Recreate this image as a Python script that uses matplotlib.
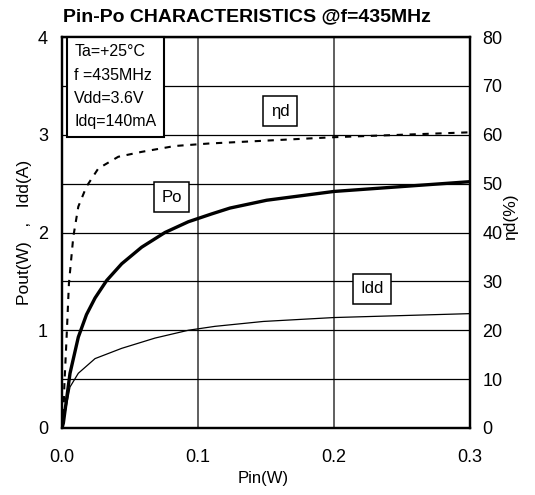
import matplotlib.pyplot as plt

plt.rcParams['font.family'] = ['Liberation Sans', 'DejaVu Sans']

pin_po = [0.0, 0.001, 0.0059, 0.012, 0.018, 0.0243, 0.0329, 0.0439, 0.0586,
          0.0757, 0.0929, 0.11, 0.1235, 0.1505, 0.2, 0.25, 0.3]
po = [0.0, 0.05, 0.56, 0.93, 1.16, 1.33, 1.51, 1.68, 1.85,
      2.0, 2.11, 2.19, 2.25, 2.33, 2.42, 2.47, 2.52]

pin_idd = [0.0, 0.001, 0.0059, 0.012, 0.0243, 0.0439, 0.0684, 0.0929, 0.1125,
           0.148, 0.2, 0.25, 0.3]
idd = [0.0, 0.065, 0.42, 0.56, 0.71, 0.815, 0.92, 1.0, 1.04,
       1.09, 1.13, 1.15, 1.17]

pin_eff = [0.0, 0.001, 0.0017, 0.0034, 0.0051, 0.0083, 0.012, 0.018, 0.0267,
           0.0414, 0.0586, 0.083, 0.1076, 0.136, 0.2, 0.25, 0.3]
eff = [0.0, 1.6, 8.5, 18.7, 29.6, 39.1, 45.3, 49.4, 53.1,
       55.5, 56.5, 57.7, 58.2, 58.6, 59.5, 60.0, 60.5]

fig = plt.figure(figsize=(5.35, 4.95), dpi=100)
ax = fig.add_axes([62 / 535, 1 - 428 / 495, 408 / 535, 391 / 495])
ax2 = ax.twinx()

ax.set_xlim(0, 0.3)
ax.set_ylim(0, 4)
ax2.set_ylim(0, 80)

ax.set_xticks([0.0, 0.1, 0.2, 0.3])
ax.set_xticklabels(['0.0', '0.1', '0.2', '0.3'])
ax.set_yticks([0, 1, 2, 3, 4])
ax.set_yticks([0.5, 1.5, 2.5, 3.5], minor=True)
ax2.set_yticks(range(0, 81, 10))

ax.grid(True, which='both', axis='y', color='black', lw=0.9)
ax.grid(True, which='major', axis='x', color='#444444', lw=1.2)
ax.set_axisbelow(True)
ax.tick_params(which='both', length=0, labelsize=13)
ax.tick_params(axis='x', pad=15)
ax.tick_params(axis='y', pad=10)
ax2.tick_params(length=0, labelsize=13, pad=9)

for a in (ax, ax2):
    for s in a.spines.values():
        s.set_linewidth(1.6)

ax.plot(pin_po, po, color='black', lw=2.4, zorder=3)
ax.plot(pin_idd, idd, color='black', lw=0.9, zorder=3)
ax2.plot(pin_eff, eff, color='black', lw=1.5, dashes=(3, 3.2))

fig.text(263 / 535, 1 - 479 / 495, 'Pin(W)', fontsize=12, ha='center', va='center')
fig.text(25 / 535, 1 - 232 / 495, 'Pout(W)   ,   Idd(A)', fontsize=12.5,
         rotation=90, ha='center', va='center')
fig.text(511 / 535, 1 - 217 / 495, 'ηd(%)', fontsize=12.5,
         rotation=90, ha='center', va='center')

fig.text(63 / 535, 1 - 17 / 495, 'Pin-Po CHARACTERISTICS @f=435MHz',
         fontsize=14, fontweight='bold', va='center', ha='left')

ax.text(0.009, 3.926, 'Ta=+25°C\nf =435MHz\nVdd=3.6V\nIdq=140mA', fontsize=11.5,
        va='top', ha='left', linespacing=1.7,
        bbox=dict(boxstyle='square,pad=0.45', fc='white', ec='black', lw=1.5), zorder=5)
box = dict(boxstyle='square,pad=0.45', fc='white', ec='black', lw=1.1)
ax.text(0.1603, 3.238, 'ηd', fontsize=12, ha='center', va='center', bbox=box, zorder=5)
ax.text(0.0805, 2.363, 'Po', fontsize=12, ha='center', va='center', bbox=box, zorder=5)
ax.text(0.2279, 1.427, 'Idd', fontsize=12, ha='center', va='center', bbox=box, zorder=5)

fig.savefig('out.png', dpi=100)
